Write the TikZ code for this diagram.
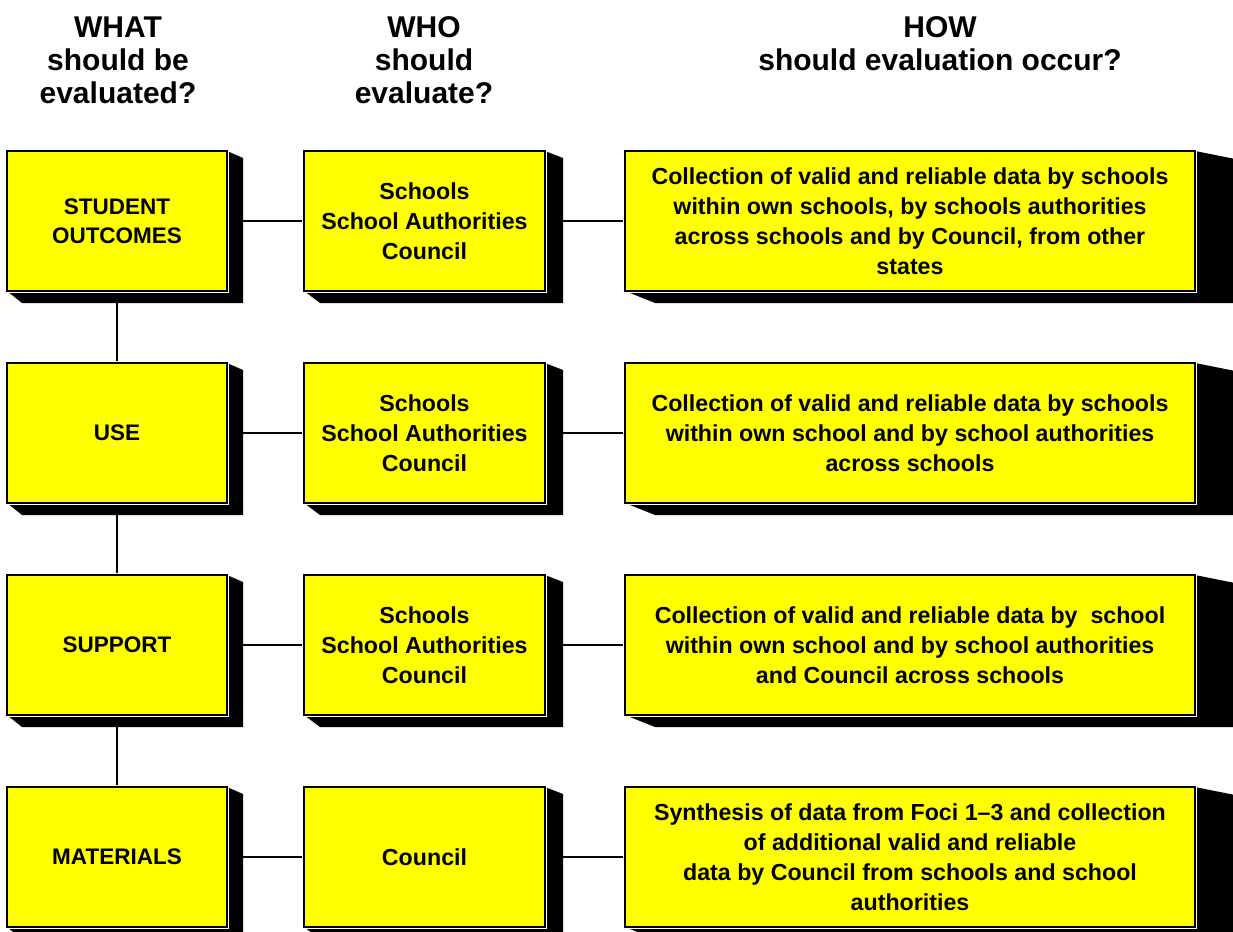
\documentclass[tikz,border=0pt]{standalone}
\usepackage{fontspec}
\setmainfont{Liberation Sans}
\usetikzlibrary{backgrounds}
\definecolor{boxyellow}{RGB}{255,255,0}
\newcommand\boxshade[5]{%
  \path[shade] (#1.north east) -- ([shift={(#2,#3)}]#1.north east)
    -- ([shift={(#2,#4)}]#1.south east) -- ([shift={(#5,#4)}]#1.south west)
    -- (#1.south west) -- (#1.south east) -- cycle;}
\begin{document}
\begin{tikzpicture}[x=1pt,y=-1pt,
  box/.style={draw=black, line width=1.4pt, fill=boxyellow, anchor=north west,
    inner sep=0pt, outer sep=0pt, align=center,
    preaction={draw=white, line width=4.5pt},
    minimum height=140pt,
    font=\bfseries\fontsize{23.2}{30}\selectfont},
  colA/.style={box, minimum width=220pt, font=\bfseries\fontsize{22.5}{29}\selectfont},
  colB/.style={box, minimum width=241pt},
  colC/.style={box, minimum width=570pt},
  link/.style={line width=1.5pt, draw=black},
  shade/.style={fill=black},
  head/.style={align=center, font=\bfseries\fontsize{30}{33}\selectfont}]
\useasboundingbox (0,0) rectangle (1233,931);
\clip (0,0) rectangle (1233,931);

\node[head] (h1) at (118,60) {WHAT\\should be\\evaluated?};
\node[head] (h2) at (424,60) {WHO\\should\\evaluate?};
\node[head] (h3) at (940,43.5) {HOW\\should evaluation occur?};

% row 1
\node[colA] (a1) at (7,151) {STUDENT\\OUTCOMES};
\node[colB] (b1) at (304,151) {Schools\\School Authorities\\Council};
\node[colC] (c1) at (625,151) {Collection of valid and reliable data by schools\\within own schools, by schools authorities\\across schools and by Council, from other\\states};
% row 2
\node[colA] (a2) at (7,363) {USE};
\node[colB] (b2) at (304,363) {Schools\\School Authorities\\Council};
\node[colC] (c2) at (625,363) {Collection of valid and reliable data by schools\\within own school and by school authorities\\across schools};
% row 3
\node[colA] (a3) at (7,575) {SUPPORT};
\node[colB] (b3) at (304,575) {Schools\\School Authorities\\Council};
\node[colC] (c3) at (625,575) {Collection of valid and reliable data by\ \ school\\within own school and by school authorities\\and Council across schools};
% row 4
\node[colA] (a4) at (7,787) {MATERIALS};
\node[colB] (b4) at (304,787) {Council};
\node[colC] (c4) at (625,787) {Synthesis of data from Foci 1–3 and collection\\of additional valid and reliable\\data by Council from schools and school\\authorities};

\begin{scope}[on background layer]
  \foreach \r in {1,2,3,4} {
    \draw[link] (a\r) -- (b\r);
    \draw[link] (b\r) -- (c\r);
  }
  \draw[link] (a1) -- (a2);
  \draw[link] (a2) -- (a3);
  \draw[link] (a3) -- (a4);
  \foreach \r in {1,2,3,4} {
    \boxshade{a\r}{16}{7}{12}{15}
    \boxshade{b\r}{18}{7}{12}{16}
    \boxshade{c\r}{50}{10}{12}{30}
  }
\end{scope}
\end{tikzpicture}
\end{document}
